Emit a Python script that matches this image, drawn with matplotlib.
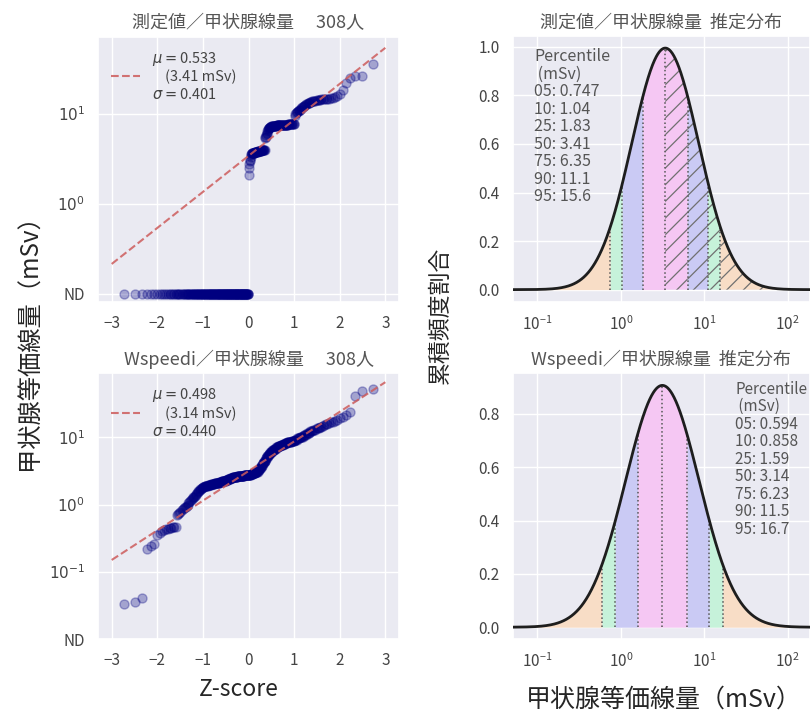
import numpy as np
import matplotlib
matplotlib.use('Agg')
import matplotlib.pyplot as plt
import matplotlib.ticker as mticker
import seaborn as sns
from statistics import NormalDist

# ---- data ----
n_people = 308

# measured thyroid dose: not-detected count, then sorted detected values as (value, count) runs
meas_nd_count = 154
meas_vals = [2.1, 2.5, 2.8, 3.0, 3.1, 3.3, 3.5, 3.6,
             3.7, 3.8, 3.9, 4.0,
             5.4, 5.5, 5.6, 5.8, 6.0, 6.2, 6.4, 6.6, 6.8, 6.9, 7.0, 7.1, 7.2,
             7.3, 7.5, 7.6, 7.7,
             9.5, 10.1, 10.3, 10.5, 10.6, 10.8, 10.9, 11.0, 11.2, 11.4, 11.6, 11.8, 12.0,
             12.2, 12.4, 12.6, 12.8, 13.0, 13.1, 13.3, 13.4, 13.6, 13.7, 13.8, 13.9, 14.0, 14.1, 14.2,
             14.3, 14.5, 14.7, 15.0, 15.5, 15.8,
             16.6, 18.4, 22.1, 25.4, 26.2, 36.2]
meas_counts = [1, 1, 1, 1, 1, 1, 1, 1,
               8, 9, 9, 9,
               1, 1, 1, 1, 1, 1, 1, 1, 1, 1, 2, 2, 2,
               12, 12, 12, 11,
               1, 1, 1, 1, 1, 1, 1, 1, 1, 1, 1, 1, 1,
               1, 1, 1, 1, 1, 1, 1, 1, 1, 1, 1, 1, 1, 1, 1,
               3, 3, 3, 2, 1, 1,
               1, 1, 1, 1, 2, 1]

# WSPEEDI estimate: no ND
ws_nd_count = 0
ws_vals = [0.034, 0.036, 0.041, 0.22, 0.24, 0.26,
           0.35, 0.38, 0.40, 0.42, 0.44, 0.45, 0.46, 0.47,
           0.70, 0.73, 0.76, 0.79, 0.82, 0.85, 0.88, 0.91,
           0.93, 0.97, 1.0, 1.04, 1.08, 1.12, 1.16, 1.2, 1.24, 1.28, 1.3,
           1.33, 1.38, 1.43, 1.48, 1.53, 1.58, 1.62, 1.66, 1.7, 1.73, 1.76, 1.79, 1.82,
           1.84, 1.87, 1.9, 1.93, 1.96, 1.99,
           2.04, 2.08, 2.12, 2.16, 2.22, 2.28, 2.35, 2.42,
           2.48, 2.53, 2.58, 2.62, 2.65, 2.68, 2.71, 2.74,
           2.78, 2.85, 2.95, 3.1,
           3.3, 3.55, 3.8, 4.1, 4.5, 4.9,
           5.3, 5.7, 6.0, 6.4, 6.8,
           7.1, 7.4, 7.7, 8.0, 8.2, 8.4, 8.6, 8.8,
           9.2, 9.7, 10.2, 10.8, 11.5, 12.2, 12.8, 13.5, 14.3,
           14.8, 15.2, 15.6, 16.0, 16.3, 16.6, 17.0, 17.6, 18.3,
           19.1, 20.0, 21.3, 23.4, 41.1, 48.6, 52.8]
ws_counts = [1, 1, 1, 1, 1, 1,
             1, 1, 1, 1, 2, 2, 2, 1,
             1, 1, 1, 1, 1, 1, 1, 1,
             1, 1, 1, 1, 1, 1, 1, 1, 1, 1, 1,
             1, 1, 1, 1, 1, 1, 1, 1, 1, 1, 1, 1, 1,
             2, 3, 3, 3, 3, 2,
             5, 5, 5, 5, 5, 5, 5, 6,
             6, 6, 6, 6, 6, 6, 6, 6,
             6, 6, 6, 7,
             4, 4, 4, 4, 4, 3,
             4, 4, 5, 5, 4,
             5, 5, 5, 4, 4, 4, 4, 5,
             4, 4, 5, 4, 4, 3, 3, 3, 2,
             1, 1, 1, 1, 1, 1, 1, 1, 1,
             1, 1, 1, 1, 1, 1, 1]

# log10 fit parameters
meas_mu, meas_sigma = 0.533, 0.401
ws_mu, ws_sigma = 0.498, 0.440

# percentiles (mSv)
pct_names = ['05', '10', '25', '50', '75', '90', '95']
meas_pct = [0.747, 1.04, 1.83, 3.41, 6.35, 11.1, 15.6]
ws_pct = [0.594, 0.858, 1.59, 3.14, 6.23, 11.5, 16.7]

band_colors = ['#f8ddc6', '#c6f2da', '#cacaf4', '#f5c7f3',
               '#f5c7f3', '#cacaf4', '#c6f2da', '#f8ddc6']

# ---- style ----
sns.set_theme(style='darkgrid')
plt.rcParams['font.family'] = ['Noto Sans CJK JP', 'DejaVu Sans']
plt.rcParams['xtick.color'] = '#444444'
plt.rcParams['ytick.color'] = '#444444'
plt.rcParams['xtick.labelsize'] = 11
plt.rcParams['ytick.labelsize'] = 11
plt.rcParams['hatch.linewidth'] = 0.9
title_col = '#555555'

W, H = 810, 718
fig = plt.figure(figsize=(W / 100, H / 100), dpi=100)


def box(l, t, w, h):
    return [l / W, 1 - (t + h) / H, w / W, h / H]


ax_tl = fig.add_axes(box(98, 36.7, 301, 265))
ax_bl = fig.add_axes(box(98, 373.3, 301, 266))
ax_tr = fig.add_axes(box(512.7, 36, 297.3, 265.7))
ax_br = fig.add_axes(box(512.7, 373.3, 297.3, 266))


def qq_panel(ax, vals, counts, nd_count, nd_level, mu, sigma, med, title, ticks, labels, ylim):
    y = np.concatenate([np.full(nd_count, nd_level), np.repeat(vals, counts)])
    n = len(y)
    z = np.array([NormalDist().inv_cdf(i / (n + 1)) for i in range(1, n + 1)])
    zl = np.array([-3.0, 3.0])
    lab = '$\\mu=$0.%s\n    (%s mSv)\n$\\sigma=$0.%s' % (
        f'{mu:.3f}'[2:], f'{med:.3g}', f'{sigma:.3f}'[2:])
    ax.plot(z, y, 'o', color='navy', alpha=0.3, ms=6.5, mec='navy', zorder=2)
    ax.plot(zl, 10 ** (mu + sigma * zl), '--', color='indianred', lw=1.5,
            alpha=0.85, label=lab, zorder=3)
    ax.set_yscale('log')
    ax.set_yticks(ticks)
    ax.set_yticklabels(labels)
    ax.yaxis.set_minor_locator(mticker.NullLocator())
    ax.set_ylim(*ylim)
    ax.set_xlim(-3.3, 3.3)
    ax.set_xticks([-3, -2, -1, 0, 1, 2, 3])
    ax.set_title(title, fontsize=13, color=title_col, pad=6)
    ax.legend(loc='upper left', frameon=False, fontsize=10.5, labelcolor='#444444')


def dist_panel(ax, mu, sigma, pct, title, hatched, tx, ty, fs):
    lo, hi = -1.295, 2.267
    edges = [lo] + list(np.log10(pct)) + [hi]

    def pdf(t):
        return np.exp(-0.5 * ((t - mu) / sigma) ** 2) / (sigma * np.sqrt(2 * np.pi))

    for k in range(8):
        t = np.linspace(edges[k], edges[k + 1], 150)
        ax.fill_between(10 ** t, 0, pdf(t), facecolor=band_colors[k], lw=0,
                        hatch='//' if (hatched and k >= 4) else None,
                        edgecolor='#707070', zorder=2)
    for p in pct:
        ax.plot([p, p], [0, pdf(np.log10(p))], ':', color='#555555', lw=1.1, zorder=3)
    t = np.linspace(lo, hi, 800)
    ax.plot(10 ** t, pdf(t), color='#1e1e1e', lw=2, zorder=4)
    ax.set_xscale('log')
    ax.set_xlim(10 ** lo, 10 ** hi)
    peak = pdf(mu)
    ax.set_ylim(-0.05 * peak, 1.05 * peak)
    txt = 'Percentile\n (mSv)\n' + '\n'.join(f'{a}: {v:.3g}' for a, v in zip(pct_names, pct))
    ax.text(tx, ty, txt, transform=ax.transAxes, ha='left', va='top', fontsize=fs,
            color='#555555', linespacing=1.04, zorder=5)
    ax.set_title(title, fontsize=13, color=title_col, pad=6)


qq_panel(ax_tl, meas_vals, meas_counts, meas_nd_count, 0.1, meas_mu, meas_sigma, meas_pct[3],
         '測定値／甲状腺線量　 %d人' % n_people,
         [0.1, 1, 10], ['ND', '$10^{0}$', '$10^{1}$'], (10 ** -1.09, 10 ** 1.86))
qq_panel(ax_bl, ws_vals, ws_counts, ws_nd_count, 0.01, ws_mu, ws_sigma, ws_pct[3],
         'Wspeedi／甲状腺線量　 %d人' % n_people,
         [0.01, 0.1, 1, 10], ['ND', '$10^{-1}$', '$10^{0}$', '$10^{1}$'], (0.01, 10 ** 1.95))

dist_panel(ax_tr, meas_mu, meas_sigma, meas_pct, '測定値／甲状腺線量  推定分布', True, 0.072, 0.955, 11.5)
dist_panel(ax_br, ws_mu, ws_sigma, ws_pct, 'Wspeedi／甲状腺線量  推定分布', False, 0.748, 0.972, 11)

fig.text(0.037, 0.532, '甲状腺等価線量（mSv）', rotation=90, ha='center', va='center', fontsize=17.5)
fig.text(0.295, 0.040, 'Z-score', ha='center', va='center', fontsize=16.5)
fig.text(0.544, 0.561, '累積頻度割合', rotation=90, ha='center', va='center', fontsize=16.5)
fig.text(0.82, 0.025, '甲状腺等価線量（mSv）', ha='center', va='center', fontsize=18)

fig.savefig('out.png', dpi=100)
